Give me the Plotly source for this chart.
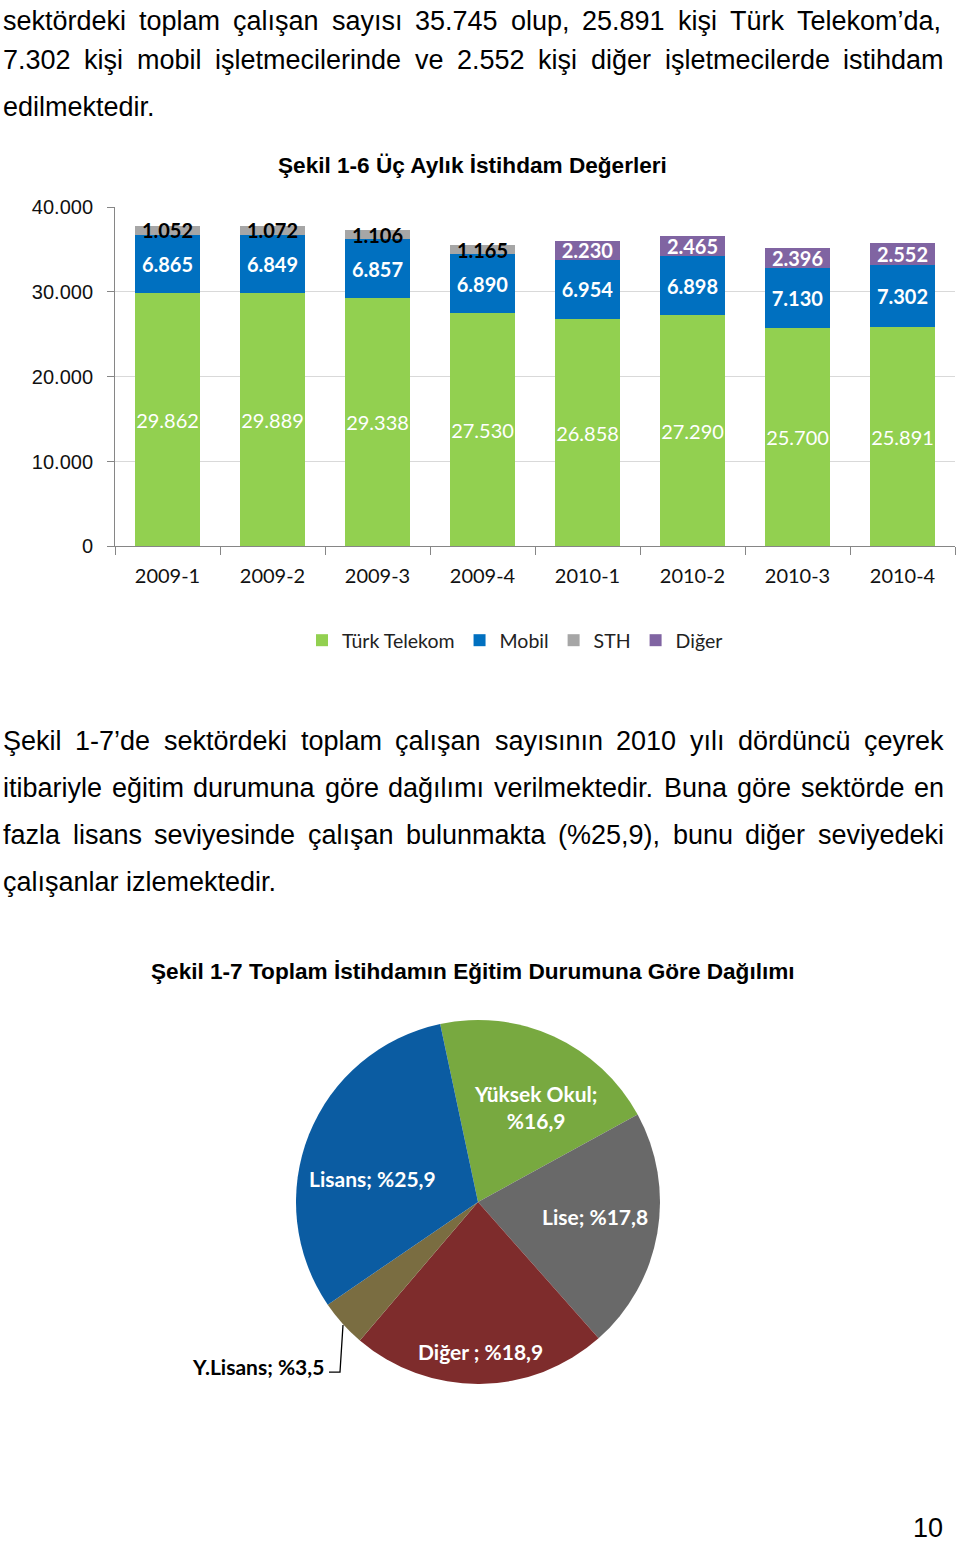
import plotly.graph_objects as go

W, H = 960, 1550

# quarterly employment (Şekil 1-6)
quarters = ["2009-1", "2009-2", "2009-3", "2009-4", "2010-1", "2010-2", "2010-3", "2010-4"]
turk_telekom = [29862, 29889, 29338, 27530, 26858, 27290, 25700, 25891]
mobil = [6865, 6849, 6857, 6890, 6954, 6898, 7130, 7302]
sth = [1052, 1072, 1106, 1165, None, None, None, None]
diger = [None, None, None, None, 2230, 2465, 2396, 2552]

# education breakdown (Şekil 1-7)
edu_labels = ["Yüksek Okul", "Lise", "Diğer ", "Y.Lisans", "Lisans"]
edu_share = [16.9, 17.8, 18.9, 3.5, 25.9]
edu_colors = ["#78A940", "#696969", "#7E2C2C", "#7A6D41", "#0B5CA2"]

para1 = [
    ("sektördeki toplam çalışan sayısı 35.745 olup, 25.891 kişi Türk Telekom’da,", True),
    ("7.302 kişi mobil işletmecilerinde ve 2.552 kişi diğer işletmecilerde istihdam", True),
    ("edilmektedir.", False),
]
para2 = [
    ("Şekil 1-7’de sektördeki toplam çalışan sayısının 2010 yılı dördüncü çeyrek", True),
    ("itibariyle eğitim durumuna göre dağılımı verilmektedir. Buna göre sektörde en", True),
    ("fazla lisans seviyesinde çalışan bulunmakta (%25,9), bunu diğer seviyedeki", True),
    ("çalışanlar izlemektedir.", False),
]

# the captured page comes out a little squeezed vertically; positions below are
# picture pixels, mapped back so they land where they should
Y_OFF, Y_SC = 11, 0.985


def fx(px):
    return px / W


def fy(py):
    return 1 - (py - Y_OFF) / Y_SC / H


# Arial advance widths (1/1000 em), used to justify body lines
ARIAL = {" ": 278, "%": 889, "’": 222, "(": 333, ")": 333, ",": 278, "-": 333, ".": 278,
         "B": 667, "Ş": 667, "T": 611,
         "a": 556, "b": 556, "c": 500, "d": 556, "e": 556, "f": 278, "g": 556, "h": 556,
         "i": 222, "j": 222, "k": 500, "l": 222, "m": 833, "n": 556, "o": 556, "p": 556,
         "r": 333, "s": 500, "t": 278, "u": 556, "v": 500, "y": 500, "z": 500,
         "ç": 500, "ğ": 556, "ı": 278, "ö": 556, "ş": 500, "ü": 556}


def text_w(s, size):
    return sum(ARIAL.get(c, 556) for c in s) * size / 1000


BODY = dict(family="Liberation Sans, Arial", size=27, color="#000000")
LEFT, RIGHT = 2, 943

annotations = []


def note(px, py, text, font, xanchor="left"):
    annotations.append(dict(x=fx(px), y=fy(py), xref="paper", yref="paper", text=text,
                            xanchor=xanchor, yanchor="middle", showarrow=False, font=font,
                            borderpad=0))


def add_line(s, py, justify):
    if not justify:
        note(LEFT, py, s, BODY)
        return
    words = s.split(" ")
    total = sum(text_w(w, BODY["size"]) for w in words)
    gap = (RIGHT - LEFT - total) / (len(words) - 1)
    x = LEFT
    for w in words:
        note(x, py, w, BODY)
        x += text_w(w, BODY["size"]) + gap


for i, (s, j) in enumerate(para1):
    add_line(s, (21 if i == 0 else 13 + 47 * i), j)
for i, (s, j) in enumerate(para2):
    add_line(s, 740 + 47 * i, j)

TITLE = dict(family="Liberation Sans, Arial", size=22.6, color="#000000", weight="bold")
note(472, 165, "Şekil 1-6 Üç Aylık İstihdam Değerleri", TITLE, "center")
note(473, 971, "Şekil 1-7 Toplam İstihdamın Eğitim Durumuna Göre Dağılımı", TITLE, "center")
note(944, 1527, "10", BODY, "right")

CAL = "Lato, Carlito, Calibri"
fig = go.Figure()

series = [
    ("Türk Telekom", turk_telekom, "#92D050", dict(color="white", weight="normal")),
    ("Mobil", mobil, "#0070C0", dict(color="white", weight="bold")),
    ("STH", sth, "#A6A6A6", dict(color="black", weight="bold")),
    ("Diğer", diger, "#8064A2", dict(color="white", weight="bold")),
]
for name, vals, col, tf in series:
    fig.add_trace(go.Bar(
        x=quarters, y=vals, name=name, marker=dict(color=col, line=dict(width=0)),
        texttemplate="%{y:,d}", textposition="inside", insidetextanchor="middle",
        constraintext="none", textangle=0,
        textfont=dict(family=CAL, size=20, **tf), hoverinfo="x+y+name",
    ))

# pie; slice labels are placed where the reference puts them
pie_text = [f"{l};{'<br>' if l == 'Yüksek Okul' else ' '}%{str(v).replace('.', ',')}"
            for l, v in zip(edu_labels, edu_share)]
fig.add_trace(go.Pie(
    labels=edu_labels, values=edu_share, text=pie_text, textinfo="none",
    sort=False, direction="clockwise", rotation=-12,
    marker=dict(colors=edu_colors, line=dict(width=0)),
    domain=dict(x=[fx(296), fx(660)], y=[fy(1383), fy(1019)]),
    showlegend=False,
))

PIEFONT = dict(family=CAL, size=21, color="white", weight="bold")
label_pos = [(535, 1106), (595, 1216), (480, 1350), None, (372, 1178)]
for t, pos in zip(pie_text, label_pos):
    if pos:
        note(pos[0], pos[1], t, PIEFONT, "center")
note(325, 1365, pie_text[3], dict(family=CAL, size=21, color="black", weight="bold"), "right")

fig.update_layout(
    width=W, height=H, margin=dict(l=0, r=0, t=0, b=0),
    paper_bgcolor="white", plot_bgcolor="white",
    separators=",.",
    barmode="stack", bargap=0.38,
    xaxis=dict(domain=[fx(115), fx(955)], type="category", range=[-0.5, 7.5], showline=True,
               linecolor="#868686", linewidth=1, ticks="outside", tickson="boundaries", ticklen=8,
               tickcolor="#868686", tickfont=dict(family=CAL, size=20, color="#111111"),
               ticklabelstandoff=12, showgrid=False, fixedrange=True),
    yaxis=dict(domain=[fy(546), fy(207)], range=[0, 40000], tickvals=[0, 10000, 20000, 30000, 40000],
               tickformat=",d", showline=True, linecolor="#868686", linewidth=1, ticks="outside",
               ticklen=7, tickcolor="#868686", gridcolor="#D9D9D9", zeroline=False,
               tickfont=dict(family="Liberation Sans, Arial", size=20, color="#111111"),
               ticklabelstandoff=10, fixedrange=True),
    legend=dict(orientation="h", x=fx(515), xanchor="center", y=fy(640), yanchor="middle",
                font=dict(family=CAL, size=19.5, color="#222222"), itemwidth=30, traceorder="normal"),
    annotations=annotations,
    shapes=[dict(type="path", xref="paper", yref="paper",
                 path=f"M {fx(343)},{fy(1324)} L {fx(340)},{fy(1371)} L {fx(329)},{fy(1371)}",
                 line=dict(color="black", width=1.3))],
)

page_css = ("var s='margin:0;padding:0;overflow:hidden;height:1550px;';"
            "document.documentElement.style.cssText=s;document.body.style.cssText=s;")
fig.write_html("out.html", config={"displayModeBar": False}, post_script=page_css)
